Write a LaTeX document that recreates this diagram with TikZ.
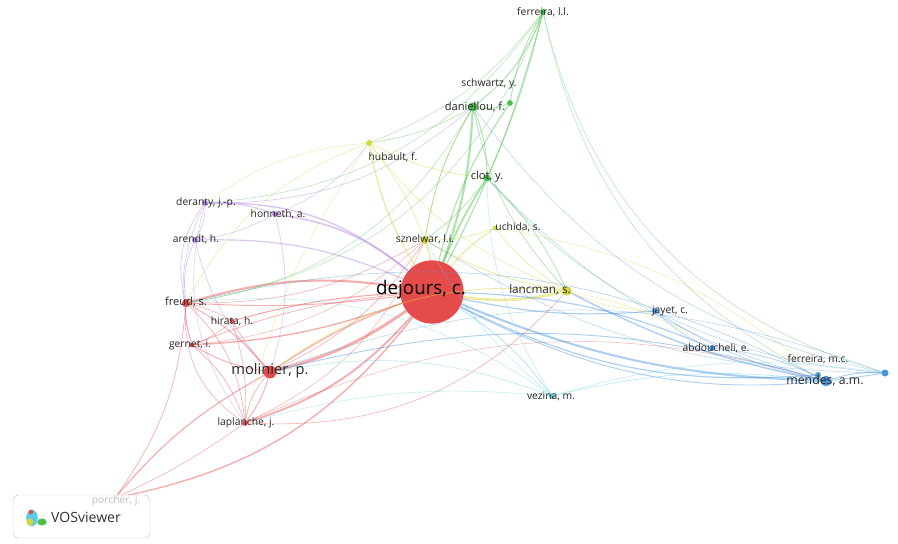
\documentclass[tikz,border=0pt]{standalone}
\usepackage{fontspec}
\setmainfont{Open Sans}
\usepackage{xcolor}
\usepackage{tikz}
\usetikzlibrary{positioning, calc}

\definecolor{vred}{HTML}{E64B4B}
\definecolor{vgreen}{HTML}{4CBF4C}
\definecolor{vblue}{HTML}{4A94DB}
\definecolor{vyellow}{HTML}{D4D43C}
\definecolor{vpurple}{HTML}{B27FE0}
\definecolor{vcyan}{HTML}{5CCDE6}

\tikzset{
    item/.style={circle, inner sep=0pt, minimum size=#1},
    lbl/.style={text=black!85, font=\fontsize{8.8}{9}\selectfont, inner sep=0pt},
    edge/.style={line width=#1, opacity=0.45},
    edge/.default=0.4pt
}

\begin{document}
\begin{tikzpicture}[x=0.03cm, y=-0.03cm]
    \useasboundingbox (0,0) rectangle (898,544);

    % Items
    \node[item=54pt, fill=vred] (dej) at (432,292) {};
    \node[item=8pt, fill=vyellow] (lan) at (567,291) {};
    \node[item=11pt, fill=vred] (mol) at (270,372) {};
    \node[item=7pt, fill=vred] (fre) at (186,303) {};
    \node[item=4pt, fill=vred] (gern) at (192,345) {};
    \node[item=4pt, fill=vred] (hir) at (232,321) {};
    \node[item=5pt, fill=vred] (lap) at (245,423) {};
    \node[item=5pt, fill=vpurple] (are) at (195,240) {};
    \node[item=5pt, fill=vpurple] (der) at (205,203) {};
    \node[item=5pt, fill=vpurple] (hon) at (275,214) {};
    \node[item=7pt, fill=vyellow] (szn) at (425,240) {};
    \node[item=4pt, fill=vyellow] (uch) at (495,228) {};
    \node[item=5pt, fill=vyellow] (hub) at (369,143) {};
    \node[item=6pt, fill=vgreen] (clo) at (487,178) {};
    \node[item=8pt, fill=vgreen] (dan) at (473,107) {};
    \node[item=5pt, fill=vgreen] (sch) at (510,103) {};
    \node[item=5pt, fill=vgreen] (fll) at (543,12) {};
    \node[item=5pt, fill=vblue] (jay) at (655,311) {};
    \node[item=5pt, fill=vblue] (abd) at (712,348) {};
    \node[item=5pt, fill=vblue] (fmc) at (818,375) {};
    \node[item=9pt, fill=vblue] (men) at (826,381) {};
    \node[item=6pt, fill=vblue] (far) at (885,373) {};
    \node[item=5pt, fill=vcyan] (vez) at (552,396) {};
    \node[item=4pt, fill=vred!30] (por) at (115,498) {};

    % Links
    \foreach \a/\b/\c/\w/\bend in {
        dej/mol/vred/2.5pt/10, dej/fre/vred/1.8pt/-12, dej/gern/vred/1.2pt/8,
        dej/hir/vred/1pt/-6, dej/lap/vred/1.6pt/15, dej/por/vred/1.2pt/20,
        dej/mol/vred/1pt/-6, dej/fre/vred/0.8pt/5, dej/gern/vred/0.6pt/-8,
        mol/fre/vred/0.8pt/-10, mol/lap/vred/0.8pt/10, mol/gern/vred/0.8pt/10,
        mol/hir/vred/0.6pt/5, fre/lap/vred/0.6pt/20, fre/gern/vred/0.6pt/-10,
        gern/lap/vred/0.6pt/15, mol/por/vred/1pt/-10, fre/por/vred/0.6pt/15,
        lap/por/vred/0.5pt/5, hir/lap/vred/0.5pt/10, fre/hir/vred/0.5pt/8,
        gern/hir/vred/0.5pt/-10, mol/lap/vred/0.5pt/-15, fre/lap/vred/0.5pt/-30,
        lap/lan/vred/0.5pt/-25, lap/szn/vred/0.4pt/-20, mol/szn/vred/0.5pt/-15,
        fre/szn/vred/0.5pt/-15, gern/szn/vred/0.4pt/-18, lap/men/vred/0.4pt/20,
        dej/hon/vpurple/1.4pt/-15, dej/der/vpurple/1.2pt/-20, dej/are/vpurple/1pt/-12,
        hon/der/vpurple/0.8pt/-10, are/der/vpurple/0.6pt/-15, are/fre/vpurple/0.6pt/-15,
        der/fre/vpurple/0.6pt/-25, hon/mol/vpurple/0.5pt/15, der/dan/vpurple/0.5pt/-20,
        hon/are/vpurple/0.5pt/10, der/gern/vpurple/0.5pt/-20, are/mol/vpurple/0.5pt/-15,
        hon/hub/vpurple/0.4pt/-15, der/lap/vpurple/0.4pt/-25,
        dej/lan/vyellow/2.4pt/-10, dej/szn/vyellow/1.4pt/-5, dej/uch/vyellow/1pt/8,
        dej/hub/vyellow/1.2pt/10, szn/lan/vyellow/0.8pt/-10, hub/clo/vyellow/0.6pt/-10,
        hub/szn/vyellow/0.6pt/8, lan/uch/vyellow/0.6pt/10, lan/hub/vyellow/0.5pt/15,
        lan/mol/vyellow/0.8pt/-20, lan/jay/vyellow/0.5pt/-10, hub/fre/vyellow/0.5pt/-20,
        hub/der/vyellow/0.4pt/-15, szn/uch/vyellow/0.6pt/-10, uch/men/vyellow/0.4pt/15,
        szn/dan/vyellow/0.5pt/10, lan/abd/vyellow/0.4pt/10, hub/lap/vyellow/0.4pt/-10,
        dej/clo/vgreen/1.6pt/5, dej/dan/vgreen/1.8pt/-8, dej/sch/vgreen/1pt/10,
        dej/fll/vgreen/1pt/-6, clo/dan/vgreen/0.8pt/-10, dan/sch/vgreen/0.8pt/-15,
        dan/fll/vgreen/0.8pt/-15, sch/fll/vgreen/0.8pt/10, clo/fll/vgreen/0.6pt/-5,
        fll/men/vgreen/0.4pt/-25, fll/far/vgreen/0.4pt/-30, fll/der/vgreen/0.4pt/25,
        dan/lan/vgreen/0.6pt/-15, clo/lan/vgreen/0.6pt/10, hub/dan/vgreen/0.5pt/-10,
        fll/hub/vgreen/0.4pt/15, fll/fre/vgreen/0.4pt/30, dan/szn/vgreen/0.6pt/-10,
        clo/szn/vgreen/0.6pt/8, dan/fre/vgreen/0.4pt/25, clo/jay/vgreen/0.4pt/-10,
        dej/men/vblue/1.8pt/-10, dej/jay/vblue/1pt/-8, dej/abd/vblue/1pt/10,
        dej/fmc/vblue/1pt/-15, dej/far/vblue/0.8pt/-18, men/fmc/vblue/0.6pt/10,
        men/far/vblue/0.8pt/10, jay/men/vblue/0.6pt/-10, abd/men/vblue/0.6pt/10,
        lan/men/vblue/1.2pt/-8, mol/men/vblue/0.8pt/15, fre/men/vblue/0.5pt/20,
        far/dan/vblue/0.4pt/20, men/clo/vblue/0.4pt/15, mol/far/vblue/0.4pt/20,
        far/szn/vblue/0.4pt/15, jay/abd/vblue/0.5pt/-10, far/jay/vblue/0.4pt/10,
        dej/vez/vcyan/0.8pt/10, vez/men/vcyan/0.5pt/10, vez/mol/vcyan/0.5pt/-15,
        vez/fre/vcyan/0.4pt/-20, vez/lap/vcyan/0.4pt/-10, vez/far/vcyan/0.4pt/12,
        vez/szn/vcyan/0.4pt/10, vez/clo/vcyan/0.4pt/15}
        \draw[edge=\w, \c] (\a) to[bend left=\bend] (\b);

    % Logo box
    \draw[black!20, rounded corners=5pt, fill=white, fill opacity=0.85] (13,495) rectangle (150,538);
    \fill[vcyan] (32,518) ellipse (5pt and 7pt);
    \fill[vyellow] (30,522) circle (3pt);
    \fill[vgreen] (42,522) ellipse (4pt and 3pt);
    \fill[vred] (31,512) circle (2pt);
    \node[font=\fontsize{12}{13}\selectfont, text=black!80, anchor=west] (logoT) at (47,517) {VOSviewer};

    % Labels
    \node[font=\fontsize{16}{18}\selectfont, text=black] (dejT) at (421,290) {dejours, c.};
    \node[lbl, font=\fontsize{10}{11}\selectfont] (lanT) at (540,290) {lancman, s.};
    \node[lbl, font=\fontsize{12.5}{13}\selectfont] (molT) at (270,371) {molinier, p.};
    \node[lbl, font=\fontsize{9.5}{10}\selectfont] (freT) at (186,302) {freud, s.};
    \node[lbl] (gernT) at (190,345) {gernet, i.};
    \node[lbl] (hirT) at (232,321) {hirata, h.};
    \node[lbl] (lapT) at (246,423) {laplanche, j.};
    \node[lbl] (areT) at (196,239) {arendt, h.};
    \node[lbl] (derT) at (206,203) {deranty, j.-p.};
    \node[lbl] (honT) at (278,214) {honneth, a.};
    \node[lbl] (sznT) at (425,239) {sznelwar, l.i.};
    \node[lbl] (uchT) at (518,227) {uchida, s.};
    \node[lbl] (hubT) at (393,157) {hubault, f.};
    \node[lbl, font=\fontsize{9.5}{10}\selectfont] (cloT) at (487,177) {clot, y.};
    \node[lbl, font=\fontsize{9.5}{10}\selectfont] (danT) at (475,107) {daniellou, f.};
    \node[lbl] (schT) at (489,84) {schwartz, y.};
    \node[lbl] (fllT) at (543,12) {ferreira, l.l.};
    \node[lbl] (jayT) at (670,311) {jayet, c.};
    \node[lbl] (abdT) at (716,348) {abdoucheli, e.};
    \node[lbl] (fmcT) at (818,359) {ferreira, m.c.};
    \node[lbl, font=\fontsize{10.5}{11}\selectfont] (menT) at (825,381) {mendes, a.m.};
    \node[lbl] (vezT) at (551,396) {vezina, m.};
    \node[lbl, text=black!25] (porT) at (116,501) {porcher, j.};
\end{tikzpicture}
\end{document}
